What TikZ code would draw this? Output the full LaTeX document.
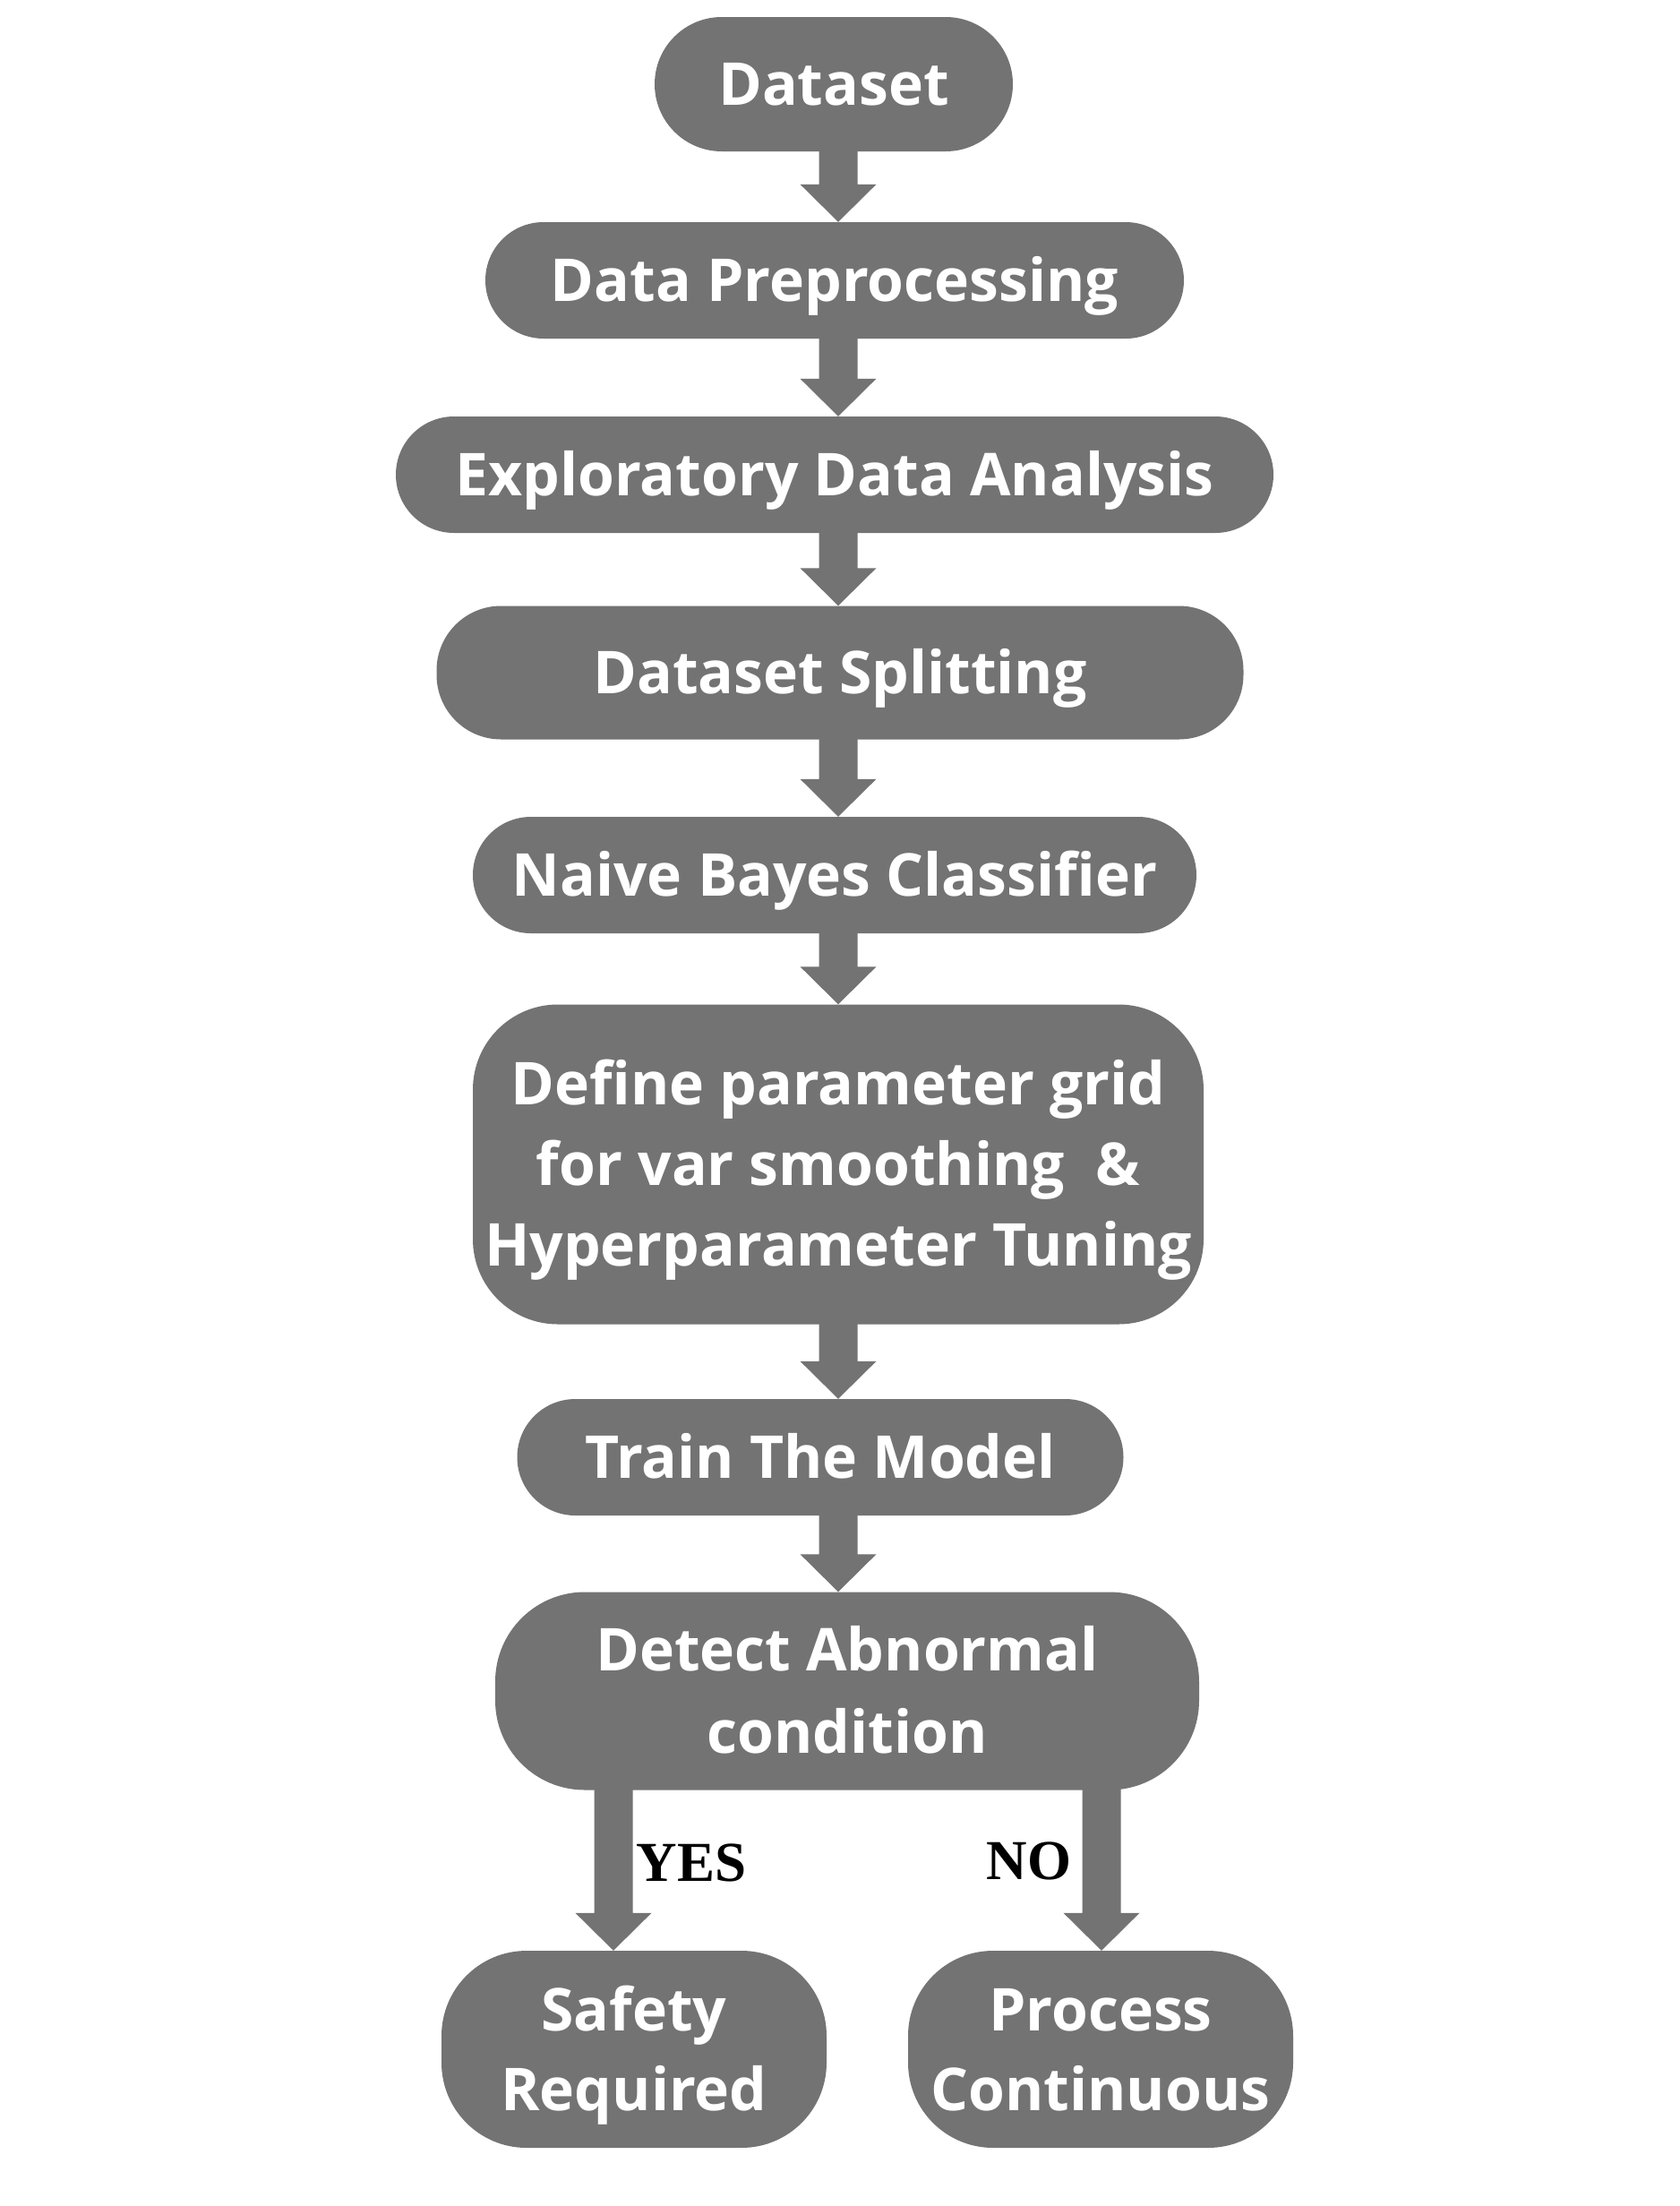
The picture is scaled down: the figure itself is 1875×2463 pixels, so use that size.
\documentclass[tikz,border=0pt]{standalone}
\usepackage{fontspec}
\IfFontExistsTF{Open Sans Bold}
  {\newfontfamily\boxfont{Open Sans Bold}}
  {\newfontfamily\boxfont{Noto Sans}[FakeBold=2.5]}
\newfontfamily\yesnofont{Liberation Serif}
\usetikzlibrary{calc}
\definecolor{boxgray}{HTML}{737373}
\tikzset{
  flowbox/.style={fill=boxgray, text=white, align=center, inner sep=0pt,
    font=\boxfont\fontsize{66}{90}\selectfont, text height=47pt, text depth=0pt},
  pill/.style={rounded corners=65pt, minimum height=130pt},
  labeltext/.style={font=\yesnofont\bfseries\fontsize{63}{63}\selectfont, text=black, anchor=base, inner sep=0pt}
}
\newcommand\blockarrow[2]{%
  \fill[boxgray] let \p1=#1, \p2=#2 in
    (\x1-21.5pt,\y1+1pt) -- (\x1+21.5pt,\y1+1pt) -- (\x1+21.5pt,\y2+42pt) --
    (\x1+42.5pt,\y2+42pt) -- (\x1,\y2) -- (\x1-42.5pt,\y2+42pt) --
    (\x1-21.5pt,\y2+42pt) -- cycle;}
\begin{document}
\begin{tikzpicture}[x=1pt,y=-1pt]
\fill[white] (0,0) rectangle (1875,2463);
\useasboundingbox (0,0) rectangle (1875,2463);

\node[flowbox, minimum width=400pt, minimum height=150pt, rounded corners=75pt] (dataset) at (931,94) {Dataset};
\node[flowbox, pill, minimum width=780pt] (prep) at (932,313) {Data Preprocessing};
\node[flowbox, pill, minimum width=980pt] (eda) at (932,530) {Exploratory Data Analysis};
\node[flowbox, minimum width=901pt, minimum height=149pt, rounded corners=72pt] (split) at (938,751) {Dataset Splitting};
\node[flowbox, pill, minimum width=808pt] (naive) at (932,977) {Naive Bayes Classifier};
\node[flowbox, minimum width=816pt, minimum height=357pt, rounded corners=95pt, text height=227pt] (define) at (936,1300)
  {Define parameter grid\\for var smoothing\ \ \&\\Hyperparameter Tuning};
\node[flowbox, pill, minimum width=677pt] (train) at (916,1627) {Train The Model};
\node[flowbox, minimum width=786pt, minimum height=221pt, rounded corners=100pt, text height=139pt,
  font=\boxfont\fontsize{66}{92}\selectfont] (detect) at (946,1888) {Detect Abnormal\\condition};
\node[flowbox, minimum width=430pt, minimum height=220pt, rounded corners=95pt, text height=136pt,
  font=\boxfont\fontsize{66}{89}\selectfont] (safety) at (708,2288) {Safety\\Required};
\node[flowbox, minimum width=430pt, minimum height=220pt, rounded corners=95pt, text height=136pt,
  font=\boxfont\fontsize{66}{89}\selectfont] (process) at (1229,2288) {Process\\Continuous};

\coordinate (ax) at (936,0);
\coordinate (yesx) at (685,0);
\coordinate (nox) at (1230,0);

\blockarrow{(dataset.south -| ax)}{(prep.north -| ax)}
\blockarrow{(prep.south -| ax)}{(eda.north -| ax)}
\blockarrow{(eda.south -| ax)}{(split.north -| ax)}
\blockarrow{(split.south -| ax)}{(naive.north -| ax)}
\blockarrow{(naive.south -| ax)}{(define.north -| ax)}
\blockarrow{(define.south -| ax)}{(train.north -| ax)}
\blockarrow{(train.south -| ax)}{(detect.north -| ax)}
\blockarrow{(detect.south -| yesx)}{(safety.north -| yesx)}
\blockarrow{(detect.south -| nox)}{(process.north -| nox)}

\node[labeltext] (yes) at (772,2100) {YES};
\node[labeltext] (no) at (1149,2098) {NO};
\end{tikzpicture}
\end{document}
